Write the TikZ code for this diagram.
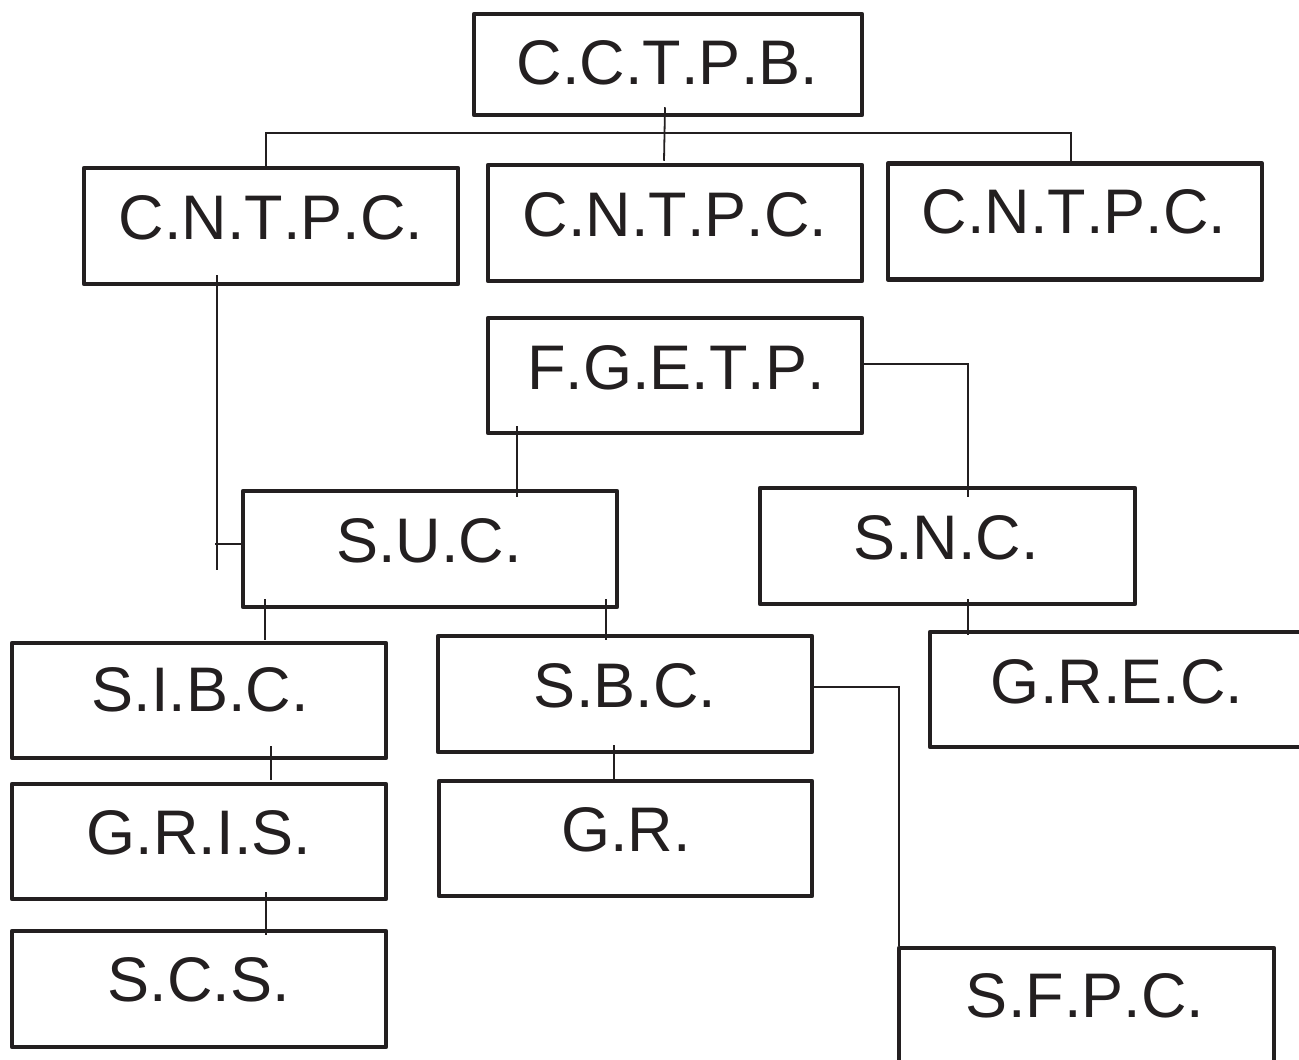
\documentclass[tikz,border=0pt]{standalone}
\usepackage{fontspec}
\setmainfont{Liberation Sans}[Kerning=Off]
\usetikzlibrary{calc}
\definecolor{ink}{HTML}{231F20}
\begin{document}
\begin{tikzpicture}[x=1pt,y=-1pt,
  box/.style={draw=ink,line width=4.5pt,line join=round,rectangle,inner sep=0pt,
    minimum width=374pt,minimum height=116pt},
  lbl/.style={inner sep=0pt,text=ink,font=\fontsize{63}{63}\selectfont},
  conn/.style={draw=ink,line width=1.8pt}]
\useasboundingbox (0,0) rectangle (1299,1060);
\clip (0,0) rectangle (1299,1060);
% boxes
\node[box,minimum width=388pt,minimum height=101pt] (cctpb) at (668,64.5) {};
\node[box] (cntpc1) at (271,226) {};
\node[box] (cntpc2) at (675,223) {};
\node[box] (cntpc3) at (1075,221.5) {};
\node[box,minimum height=115pt] (fgetp) at (675,375.5) {};
\node[box] (suc) at (430,549) {};
\node[box,minimum width=375pt] (snc) at (947.5,546) {};
\node[box,minimum height=115pt] (sibc) at (199,700.5) {};
\node[box] (sbc) at (625,694) {};
\node[box,minimum height=115pt] (grec) at (1117,689.5) {};
\node[box,minimum height=115pt] (gris) at (199,841.5) {};
\node[box,minimum width=373pt,minimum height=115pt] (gr) at (625.5,838.5) {};
\node[box] (scs) at (199,989) {};
\node[box,minimum width=375pt,minimum height=130pt] (sfpc) at (1086.5,1013) {};
% labels
\node[lbl] (t-cctpb) at (667.5,63) {C.C.T.P.B.};
\node[lbl] (t-cntpc1) at (271,218) {C.N.T.P.C.};
\node[lbl] (t-cntpc2) at (675,215) {C.N.T.P.C.};
\node[lbl] (t-cntpc3) at (1074,212) {C.N.T.P.C.};
\node[lbl] (t-fgetp) at (676,368) {F.G.E.T.P.};
\node[lbl] (t-suc) at (429,541) {S.U.C.};
\node[lbl] (t-snc) at (946,538) {S.N.C.};
\node[lbl] (t-sibc) at (200,690) {S.I.B.C.};
\node[lbl] (t-sbc) at (625,686) {S.B.C.};
\node[lbl] (t-grec) at (1117,682) {G.R.E.C.};
\node[lbl] (t-gris) at (199,833) {G.R.I.S.};
\node[lbl] (t-gr) at (626,830) {G.R.};
\node[lbl] (t-scs) at (199,980) {S.C.S.};
\node[lbl] (t-sfpc) at (1085,996) {S.F.P.C.};
% junction coordinates
\coordinate (bus) at (665,133);
\coordinate (lend) at (217,570);
% connectors
\draw[conn] ($(cctpb.south)+(-3,-10)$) -- ($(cntpc2.north)+(-11,-2)$);
\draw[conn] ($(cntpc1.north)+(-5,0)$) |- (bus) -| ($(cntpc3.north)+(-4,0)$);
\draw[conn] ($(cntpc1.south)+(-54,-11)$) -- (lend);
\draw[conn] ($(suc.west)+(0,-5)$) -- ($(suc.west)+(-26,-5)$);
\draw[conn] ($(fgetp.south)+(-158,-9)$) -- ($(suc.north)+(87,8)$);
\draw[conn] ($(fgetp.east)+(0,-11.5)$) -| ($(snc.north)+(20.5,11)$);
\draw[conn] ($(suc.south)+(-165,-10)$) -- ($(sibc.north)+(66,-1)$);
\draw[conn] ($(suc.south)+(176,-10)$) -- ($(sbc.north)+(-19,6)$);
\draw[conn] ($(snc.south)+(20.5,-7)$) -- ($(grec.north)+(-149,5)$);
\draw[conn] ($(sbc.east)+(0,-7)$) -| ($(sfpc.north)+(-187.5,0)$);
\draw[conn] ($(sibc.south)+(72,-14)$) -- ($(gris.north)+(72,-2)$);
\draw[conn] ($(gris.south)+(67,-9)$) -- ($(scs.north)+(67,6)$);
\draw[conn] ($(sbc.south)+(-11,-9)$) -- ($(gr.north)+(-11.5,0)$);
\end{tikzpicture}
\end{document}
